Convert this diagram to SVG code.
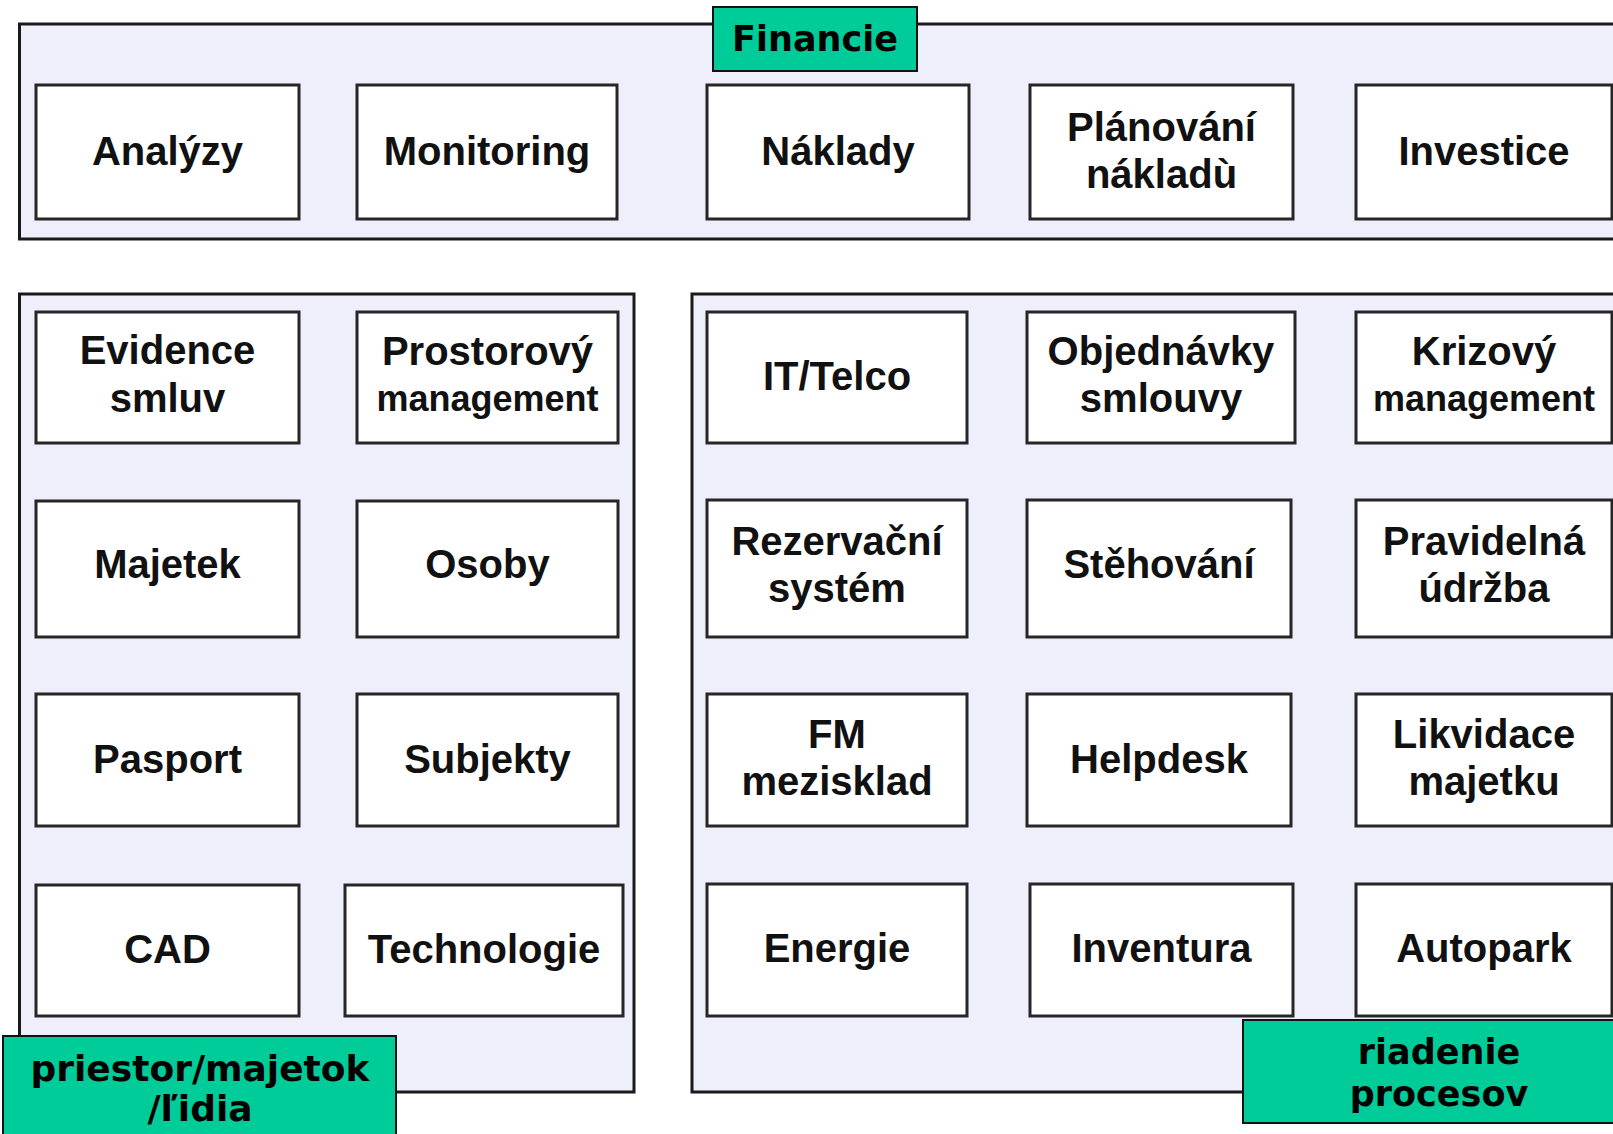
<svg xmlns="http://www.w3.org/2000/svg" width="1613" height="1134" viewBox="0 0 1613 1134">
<style>
.panel{fill:#EFEFFB;stroke:#1a1a1a;stroke-width:3}
.box{fill:#fff;stroke:#262626;stroke-width:3}
.lbl{fill:#00CC99;stroke:#111;stroke-width:2}
.t{font-family:"Liberation Sans",Arial,sans-serif;font-weight:bold;font-size:40px;fill:#111;text-anchor:middle}
.s{font-size:36px}
.g{font-family:"DejaVu Sans",Verdana,sans-serif;font-weight:bold;font-size:35px;fill:#000;text-anchor:middle}
.g2{font-size:36px}
</style>
<rect width="1613" height="1134" fill="#fff"/>
<g id="panels">
<rect class="panel" x="19.5" y="24" width="1610" height="215"/>
<rect class="panel" x="19.5" y="294" width="614.5" height="798"/>
<rect class="panel" x="692" y="294" width="940" height="798"/>
</g>
<g id="connectors"/>
<g id="n-analyzy"><rect class="box" x="36" y="85" width="263" height="134"/><text class="t" x="167.5" y="165">Analýzy</text></g>
<g id="n-monitoring"><rect class="box" x="357" y="85" width="260" height="134"/><text class="t" x="487" y="165">Monitoring</text></g>
<g id="n-naklady"><rect class="box" x="707" y="85" width="262" height="134"/><text class="t" x="838" y="165">Náklady</text></g>
<g id="n-planovani"><rect class="box" x="1030" y="85" width="263" height="134"/><text class="t" x="1161.5" y="141">Plánování</text><text class="t" x="1161.5" y="188">nákladù</text></g>
<g id="n-investice"><rect class="box" x="1356" y="85" width="256" height="134"/><text class="t" x="1484" y="165">Investice</text></g>

<g id="n-evidence"><rect class="box" x="36" y="312" width="263" height="131"/><text class="t" x="167.5" y="364">Evidence</text><text class="t" x="167.5" y="412">smluv</text></g>
<g id="n-prostorovy"><rect class="box" x="357" y="312" width="261" height="131"/><text class="t" x="487.5" y="365">Prostorový</text><text class="t s" x="487.5" y="411">management</text></g>
<g id="n-majetek"><rect class="box" x="36" y="501" width="263" height="136"/><text class="t" x="167.5" y="578">Majetek</text></g>
<g id="n-osoby"><rect class="box" x="357" y="501" width="261" height="136"/><text class="t" x="487.5" y="578">Osoby</text></g>
<g id="n-pasport"><rect class="box" x="36" y="694" width="263" height="132"/><text class="t" x="167.5" y="773">Pasport</text></g>
<g id="n-subjekty"><rect class="box" x="357" y="694" width="261" height="132"/><text class="t" x="487.5" y="773">Subjekty</text></g>
<g id="n-cad"><rect class="box" x="36" y="885" width="263" height="131"/><text class="t" x="167.5" y="963">CAD</text></g>
<g id="n-technologie"><rect class="box" x="345" y="885" width="278" height="131"/><text class="t" x="484" y="963">Technologie</text></g>

<g id="n-ittelco"><rect class="box" x="707" y="312" width="260" height="131"/><text class="t" x="837" y="390">IT/Telco</text></g>
<g id="n-objednavky"><rect class="box" x="1027" y="312" width="268" height="131"/><text class="t" x="1161" y="365">Objednávky</text><text class="t" x="1161" y="412">smlouvy</text></g>
<g id="n-krizovy"><rect class="box" x="1356" y="312" width="256" height="131"/><text class="t" x="1484" y="365">Krizový</text><text class="t s" x="1484" y="411">management</text></g>
<g id="n-rezervacni"><rect class="box" x="707" y="500" width="260" height="137"/><text class="t" x="837" y="555">Rezervační</text><text class="t" x="837" y="602">systém</text></g>
<g id="n-stehovani"><rect class="box" x="1027" y="500" width="264" height="137"/><text class="t" x="1159" y="578">Stěhování</text></g>
<g id="n-pravidelna"><rect class="box" x="1356" y="500" width="256" height="137"/><text class="t" x="1484" y="555">Pravidelná</text><text class="t" x="1484" y="602">údržba</text></g>
<g id="n-fm"><rect class="box" x="707" y="694" width="260" height="132"/><text class="t" x="837" y="748">FM</text><text class="t" x="837" y="795">mezisklad</text></g>
<g id="n-helpdesk"><rect class="box" x="1027" y="694" width="264" height="132"/><text class="t" x="1159" y="773">Helpdesk</text></g>
<g id="n-likvidace"><rect class="box" x="1356" y="694" width="256" height="132"/><text class="t" x="1484" y="748">Likvidace</text><text class="t" x="1484" y="795">majetku</text></g>
<g id="n-energie"><rect class="box" x="707" y="884" width="260" height="132"/><text class="t" x="837" y="962">Energie</text></g>
<g id="n-inventura"><rect class="box" x="1030" y="884" width="263" height="132"/><text class="t" x="1161.5" y="962">Inventura</text></g>
<g id="n-autopark"><rect class="box" x="1356" y="884" width="256" height="132"/><text class="t" x="1484" y="962">Autopark</text></g>

<g id="lbl-financie"><rect class="lbl" x="713" y="7" width="204" height="64"/><text class="g" x="815" y="51">Financie</text></g>
<g id="lbl-priestor"><rect class="lbl" x="3" y="1036" width="393" height="110"/><text class="g g2" x="200" y="1081">priestor/majetok</text><text class="g g2" x="200" y="1121">/ľidia</text></g>
<g id="lbl-riadenie"><rect class="lbl" x="1243" y="1020" width="380" height="103"/><text class="g" x="1439" y="1064">riadenie</text><text class="g" x="1439" y="1106">procesov</text></g>
</svg>
